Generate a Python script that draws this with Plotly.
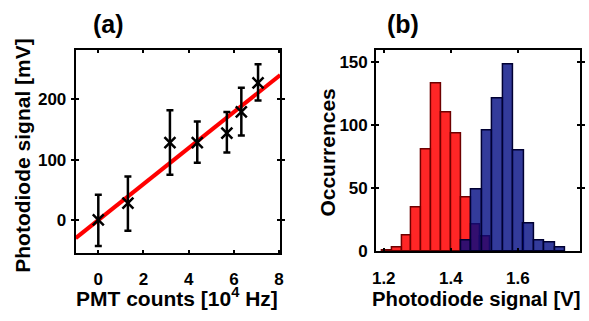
import plotly.graph_objects as go

# Panel (a) data
pmt_counts = [0, 1.31, 3.17, 4.38, 5.69, 6.33, 7.07]
pd_signal = [0, 28, 128, 128, 144, 179, 227]
err_plus = [42, 44, 54, 35, 35, 40, 31]
err_minus = [43, 46, 53, 33, 32, 39, 29]
fit_x = [-1, 8.05]
fit_y = [-30, 240]

# Panel (b) data
red_centers = [1.2097, 1.2391, 1.2685, 1.2979, 1.3274, 1.3568, 1.3862, 1.4156, 1.4450, 1.4744, 1.5038]
red_counts = [1, 3, 13, 35, 81, 133, 110, 93, 43, 21, 12]
blue_centers = [1.4459, 1.4771, 1.5082, 1.5394, 1.5706, 1.6018, 1.6329, 1.6641, 1.6953, 1.7265]
blue_counts = [9, 49, 96, 121, 148, 80, 22, 9, 7, 3]
red_width = 0.0294
blue_width = 0.0312

a_xticks = [0, 2, 4, 6, 8]
a_yticks = [0, 100, 200]
b_xticks = [1.2, 1.4, 1.6]
b_yticks = [0, 50, 100, 150]

W, H = 589, 321
FONT = "Liberation Sans, Arial, sans-serif"
TICKFONT = dict(family=FONT, size=17, color="black", weight="bold")

fig = go.Figure()

fig.add_trace(go.Scatter(x=fit_x, y=fit_y, mode="lines",
                         line=dict(color="rgb(255,0,0)", width=4),
                         xaxis="x", yaxis="y", showlegend=False))
fig.add_trace(go.Scatter(x=pmt_counts, y=pd_signal, mode="markers",
                         marker=dict(symbol="x-thin", size=11, color="black",
                                     line=dict(color="black", width=2.5)),
                         error_y=dict(type="data", array=err_plus, arrayminus=err_minus,
                                      color="black", thickness=2.5, width=3.5),
                         xaxis="x", yaxis="y", showlegend=False))

fig.add_trace(go.Bar(x=red_centers, y=red_counts, width=red_width,
                     marker=dict(color="rgba(255,0,0,0.85)",
                                 line=dict(color="rgb(110,0,0)", width=1.5)),
                     xaxis="x2", yaxis="y2", showlegend=False))
fig.add_trace(go.Bar(x=blue_centers, y=blue_counts, width=blue_width,
                     marker=dict(color="rgba(0,10,130,0.8)",
                                 line=dict(color="rgb(0,0,50)", width=1.5)),
                     xaxis="x2", yaxis="y2", showlegend=False))

# invisible carriers for the tick-label axes
fig.add_trace(go.Scatter(x=fit_x, y=fit_y, mode="lines", opacity=0, hoverinfo="skip",
                         xaxis="x3", yaxis="y", showlegend=False))
fig.add_trace(go.Scatter(x=red_centers, y=red_counts, mode="lines", opacity=0, hoverinfo="skip",
                         xaxis="x4", yaxis="y2", showlegend=False))

def frame_axis():
    return dict(showline=True, linecolor="black", linewidth=2, mirror="allticks",
                ticks="inside", ticklen=3, tickwidth=1.5, tickcolor="black",
                showgrid=False, zeroline=False, tickfont=TICKFONT)

def label_axis(tl):
    return dict(showline=False, ticks="outside", ticklen=tl, tickcolor="rgba(0,0,0,0)",
                showgrid=False, zeroline=False, tickfont=TICKFONT, side="bottom")

xa_dom = [72.7 / W, 280 / W]
xb_dom = [377.3 / W, 584 / W]
xa_rng = [-1, 8.05]
xb_rng = [1.1774, 1.7856]

fig.update_layout(
    width=W, height=H,
    margin=dict(l=0, r=0, t=0, b=0),
    paper_bgcolor="white", plot_bgcolor="white",
    barmode="overlay", bargap=0,
    xaxis=dict(domain=xa_dom, range=xa_rng, tickvals=a_xticks, showticklabels=False,
               anchor="y", **frame_axis()),
    yaxis=dict(domain=[1 - 260.7 / H, 1 - 52 / H], range=[-54, 281], tickvals=a_yticks,
               anchor="x", ticklabelstandoff=4, **frame_axis()),
    xaxis2=dict(domain=xb_dom, range=xb_rng, tickvals=b_xticks, showticklabels=False,
                anchor="y2", **frame_axis()),
    yaxis2=dict(domain=[1 - 259.5 / H, 1 - 52 / H], range=[0, 159], tickvals=b_yticks,
                anchor="x2", ticklabelstandoff=3, **frame_axis()),
    xaxis3=dict(overlaying="x", anchor="y", range=xa_rng, tickvals=a_xticks, **label_axis(11)),
    xaxis4=dict(overlaying="x2", anchor="y2", range=xb_rng, tickvals=b_xticks, **label_axis(11)),
)

def ann(text, x, y, size, angle=0):
    fig.add_annotation(text=text, x=x / W, y=1 - y / H, xref="paper", yref="paper",
                       showarrow=False, textangle=angle, xanchor="center", yanchor="middle",
                       font=dict(family=FONT, size=size, color="black", weight="bold"))

ann("(a)", 106, 25, 25)
ann("(b)", 405, 25, 25)
ann("Photodiode signal [mV]", 18, 160, 21, -90)
ann("PMT counts [10<sup>4</sup> Hz]", 175, 307, 21)
ann("Occurrences", 328, 158, 21, -90)
ann("Photodiode signal [V]", 479, 309, 20.3)

fig.write_html("out.html", config={"displayModeBar": False},
               post_script="document.body.style.margin='0';document.body.style.overflow='hidden';")
